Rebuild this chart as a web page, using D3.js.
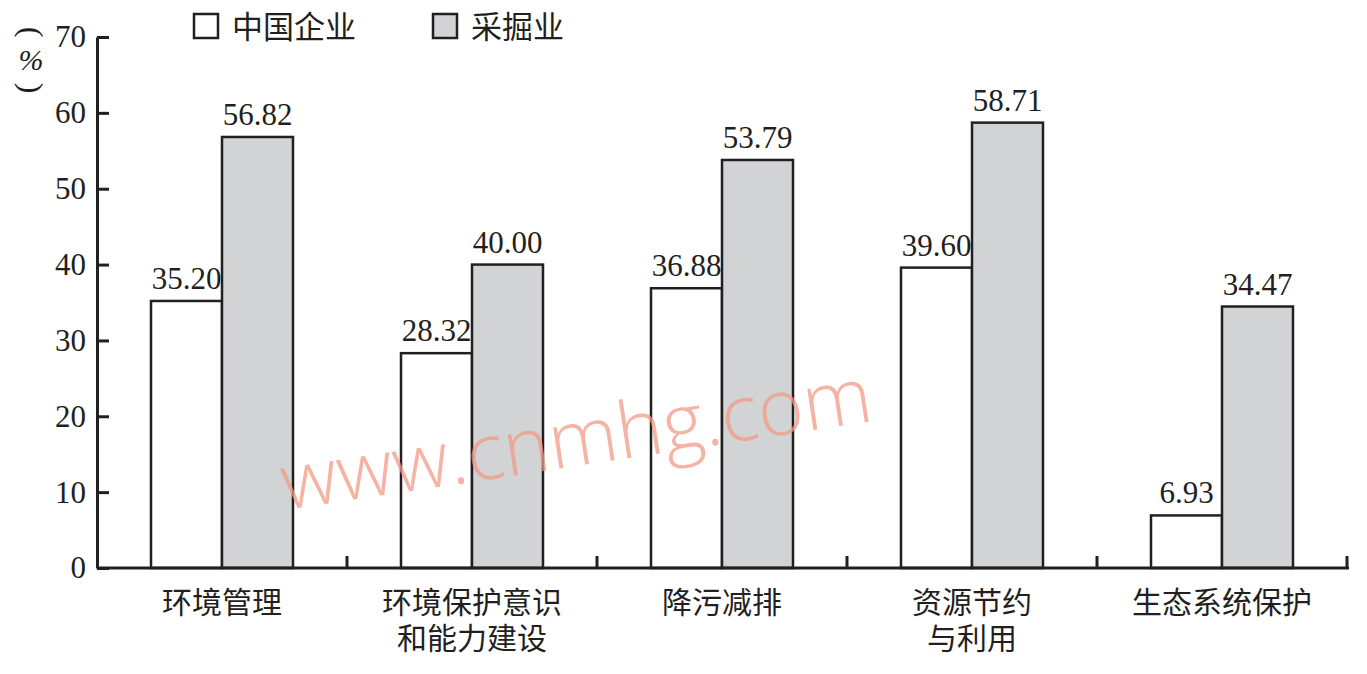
<!DOCTYPE html>
<html>
<head>
<meta charset="utf-8">
<script src="https://cdn.jsdelivr.net/npm/d3@7"></script>
<style>
  body { margin: 0; background: #fff; }
  svg { display: block; }
</style>
</head>
<body>
<div id="chart"></div>
<script>
// data
const categories = ["环境管理", "环境保护意识\n和能力建设", "降污减排", "资源节约\n与利用", "生态系统保护"];
const seriesNames = ["中国企业", "采掘业"];
const chinaValues = [35.20, 28.32, 36.88, 39.60, 6.93];
const miningValues = [56.82, 40.00, 53.79, 58.71, 34.47];
const yTicks = [0, 10, 20, 30, 40, 50, 60, 70];

const seriesFill = { "中国企业": "#ffffff", "采掘业": "#d1d3d4" };
const ink = "#231f20";
const numFont = "'Liberation Serif', 'DejaVu Serif', serif";
const cjkFont = "'Noto Sans CJK SC', sans-serif";

const width = 1367, height = 674;

const rows = categories.map((c, i) => ({
    category: c,
    values: [
        { series: seriesNames[0], value: chinaValues[i] },
        { series: seriesNames[1], value: miningValues[i] }
    ]
}));

const svg = d3.select("#chart").append("svg")
    .attr("width", width)
    .attr("height", height);

const y = d3.scaleLinear().domain([0, 70]).range([568, 37]);

const x0 = d3.scaleBand()
    .domain(categories)
    .range([97, 1347])
    .paddingInner(0.432)
    .paddingOuter(0.216);

const x1 = d3.scaleBand()
    .domain(seriesNames)
    .range([0, x0.bandwidth()]);

// bars
const group = svg.append("g")
    .selectAll("g")
    .data(rows)
    .join("g")
    .attr("transform", d => `translate(${x0(d.category)},0)`);

group.selectAll("rect")
    .data(d => d.values)
    .join("rect")
    .attr("x", d => x1(d.series))
    .attr("y", d => y(d.value))
    .attr("width", x1.bandwidth())
    .attr("height", d => y(0) - y(d.value))
    .attr("fill", d => seriesFill[d.series])
    .attr("stroke", ink)
    .attr("stroke-width", 2.5);

// value labels
group.selectAll("text")
    .data(d => d.values)
    .join("text")
    .attr("x", d => x1(d.series) + x1.bandwidth() / 2)
    .attr("y", d => y(d.value) - 12)
    .attr("text-anchor", "middle")
    .attr("font-family", numFont)
    .attr("font-size", 31)
    .attr("fill", ink)
    .text(d => d.value.toFixed(2));

// y axis with inward ticks
const yAxis = svg.append("g")
    .attr("transform", "translate(97,0)")
    .call(d3.axisLeft(y).tickValues(yTicks).tickSizeInner(-12).tickSizeOuter(0).tickPadding(11));

yAxis.select(".domain").attr("stroke", ink).attr("stroke-width", 3);
yAxis.selectAll(".tick line").attr("stroke", ink).attr("stroke-width", 3);
yAxis.selectAll(".tick text")
    .attr("font-family", numFont)
    .attr("font-size", 31)
    .attr("fill", ink);

// x axis line and ticks at the category boundaries
const [xStart, xEnd] = x0.range();
svg.append("line")
    .attr("x1", xStart).attr("x2", xEnd + 2)
    .attr("y1", y(0)).attr("y2", y(0))
    .attr("stroke", ink)
    .attr("stroke-width", 3);

svg.append("g")
    .selectAll("line")
    .data(categories)
    .join("line")
    .attr("x1", d => x0(d) + x0.bandwidth() + x0.step() * x0.paddingInner() / 2)
    .attr("x2", d => x0(d) + x0.bandwidth() + x0.step() * x0.paddingInner() / 2)
    .attr("y1", y(0))
    .attr("y2", y(0) - 12)
    .attr("stroke", ink)
    .attr("stroke-width", 3);

// category labels
svg.append("g")
    .selectAll("text")
    .data(categories)
    .join("text")
    .attr("x", d => x0(d) + x0.bandwidth() / 2)
    .attr("y", 602)
    .attr("text-anchor", "middle")
    .attr("font-family", cjkFont)
    .attr("font-size", 30)
    .attr("fill", ink)
    .each(function(d) {
        d3.select(this).selectAll("tspan")
            .data(d.split("\n"))
            .join("tspan")
            .attr("x", x0(d) + x0.bandwidth() / 2)
            .attr("dy", (t, i) => i === 0 ? "0.35em" : 36)
            .text(t => t);
    });

// y axis unit label, written vertically: parentheses turned on their side
const unit = svg.append("g")
    .attr("font-family", numFont)
    .attr("fill", ink)
    .attr("text-anchor", "middle");
unit.append("text")
    .attr("transform", "translate(31,32) rotate(90)")
    .attr("dy", "0.32em")
    .attr("font-size", 32)
    .text("(");
unit.append("text").attr("x", 31).attr("y", 70)
    .attr("font-style", "italic").attr("font-size", 30).text("%");
unit.append("text")
    .attr("transform", "translate(31,88) rotate(90)")
    .attr("dy", "0.32em")
    .attr("font-size", 32)
    .text(")");

// legend
const legend = svg.append("g")
    .selectAll("g")
    .data(seriesNames)
    .join("g")
    .attr("transform", (d, i) => `translate(${[194, 433][i]},14)`);

legend.append("rect")
    .attr("width", 24)
    .attr("height", 24)
    .attr("fill", d => seriesFill[d])
    .attr("stroke", ink)
    .attr("stroke-width", 2.5);

legend.append("text")
    .attr("x", 38)
    .attr("y", 13)
    .attr("dy", "0.35em")
    .attr("font-family", cjkFont)
    .attr("font-size", 31)
    .attr("fill", ink)
    .text(d => d);

// watermark across the plot
svg.append("text")
    .attr("transform", "translate(285,510) rotate(-8.6)")
    .attr("font-family", "'Open Sans', sans-serif")
    .attr("font-weight", 300)
    .attr("font-size", 78)
    .attr("fill", "#f29a85")
    .attr("opacity", 0.75)
    .text("www.cnmhg.com");
</script>
</body>
</html>
